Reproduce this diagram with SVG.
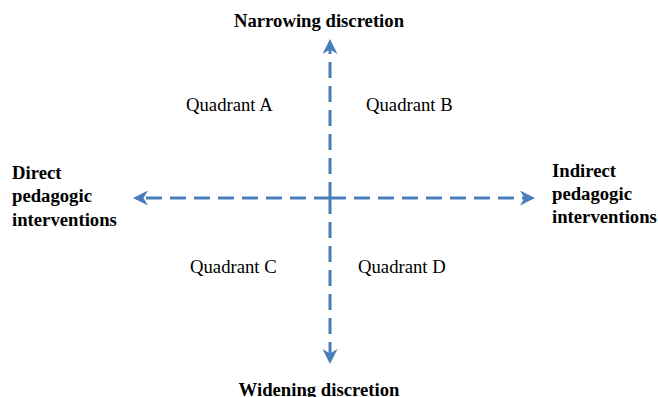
<svg xmlns="http://www.w3.org/2000/svg" width="658" height="397" viewBox="0 0 658 397">
  <style>
    .axis { stroke: #4A7EBB; stroke-width: 3; stroke-dasharray: 16 8; fill: none; marker-end: url(#head); }
    .title { font-family: 'Liberation Serif', 'Times New Roman', serif; font-weight: bold; font-size: 18.7px; fill: #000; }
    .quad { font-family: 'Liberation Serif', 'Times New Roman', serif; font-size: 18.7px; fill: #000; }
  </style>
  <defs>
    <marker id="head" viewBox="0 0 10 10" refX="8" refY="5" markerWidth="5" markerHeight="5" orient="auto" markerUnits="strokeWidth">
      <path d="M0,0 L10,5 L0,10 L3,5 Z" fill="#4A7EBB"/>
    </marker>
  </defs>
  <rect width="658" height="397" fill="#fff"/>

  <!-- dashed axes, each half drawn out from the centre -->
  <g id="connectors">
    <line class="axis" x1="330" y1="198" x2="330" y2="42"/>
    <line class="axis" x1="330" y1="198" x2="330" y2="361"/>
    <line class="axis" x1="330" y1="198" x2="136" y2="198"/>
    <line class="axis" x1="330" y1="198" x2="532" y2="198"/>
  </g>

  <g id="narrowing">
    <text class="title" x="319" y="27" text-anchor="middle">Narrowing discretion</text>
  </g>
  <g id="widening">
    <text class="title" x="319" y="396" text-anchor="middle">Widening discretion</text>
  </g>
  <g id="direct">
    <text class="title" x="12" y="179">Direct</text>
    <text class="title" x="12" y="202">pedagogic</text>
    <text class="title" x="12" y="226">interventions</text>
  </g>
  <g id="indirect">
    <text class="title" x="552" y="177">Indirect</text>
    <text class="title" x="552" y="200">pedagogic</text>
    <text class="title" x="552" y="223">interventions</text>
  </g>
  <g id="quadrant-a"><text class="quad" x="186" y="111">Quadrant A</text></g>
  <g id="quadrant-b"><text class="quad" x="366" y="111">Quadrant B</text></g>
  <g id="quadrant-c"><text class="quad" x="190" y="273">Quadrant C</text></g>
  <g id="quadrant-d"><text class="quad" x="358" y="273">Quadrant D</text></g>
</svg>
